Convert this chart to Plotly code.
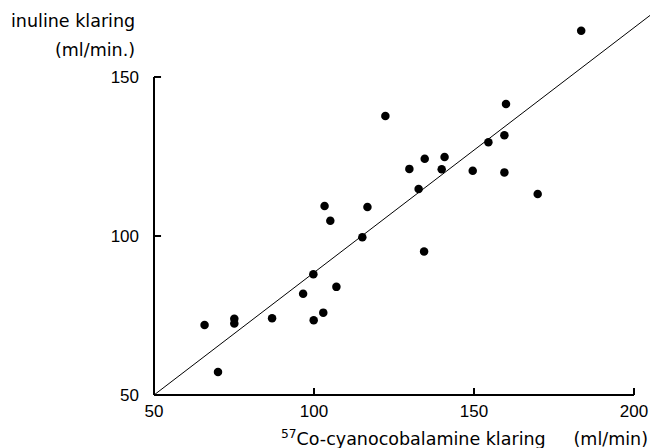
import plotly.graph_objects as go

# Data
co57_clearance = [183.5, 160.0, 122.3, 159.5, 154.5, 134.6, 140.8, 129.8, 139.9, 149.6,
                  159.5, 132.7, 169.9, 103.3, 116.7, 105.1, 115.1, 134.4, 99.8, 107.0,
                  96.6, 102.9, 86.9, 99.9, 75.1, 75.1, 65.8, 70.0]
inulin_clearance = [164.5, 141.5, 137.7, 131.7, 129.5, 124.3, 124.8, 121.1, 121.0, 120.5,
                    120.0, 114.8, 113.2, 109.4, 109.1, 104.8, 99.6, 95.1, 88.0, 84.0,
                    81.8, 75.9, 74.1, 73.5, 74.0, 72.5, 72.0, 57.2]

fit_slope = 0.77
fit_intercept = 50 - 0.77 * 50
fit_x = [50, 205]
fit_y = [fit_intercept + fit_slope * v for v in fit_x]

x_ticks = [50, 100, 150, 200]
y_ticks = [50, 100, 150]

TITLE_FONT = "DejaVu Sans"
TICK_FONT = "Liberation Sans"

X_RANGE = [49.375, 205]
Y_RANGE = [49.37, 172]
x_axis_span = [x_ticks[0], x_ticks[-1]]
y_axis_span = [y_ticks[0], y_ticks[-1]]
tick_len_x = 2.2  # in y data units
tick_len_y = 2.2  # in x data units

fig = go.Figure()
fig.add_trace(go.Scatter(x=fit_x, y=fit_y, mode="lines",
                         line=dict(color="black", width=1), hoverinfo="skip"))
fig.add_trace(go.Scatter(x=co57_clearance, y=inulin_clearance, mode="markers",
                         marker=dict(color="black", size=8.5)))

line_style = dict(color="black", width=2)
# axis lines only over the labelled span
fig.add_shape(type="line", xref="x", yref="y", x0=x_axis_span[0], x1=x_axis_span[1],
              y0=y_ticks[0], y1=y_ticks[0], line=line_style)
fig.add_shape(type="line", xref="x", yref="y", x0=x_ticks[0], x1=x_ticks[0],
              y0=y_axis_span[0], y1=y_axis_span[1], line=line_style)
for t in x_ticks[1:]:
    fig.add_shape(type="line", xref="x", yref="y", x0=t, x1=t,
                  y0=y_ticks[0], y1=y_ticks[0] + tick_len_x, line=line_style)
for t in y_ticks[1:]:
    fig.add_shape(type="line", xref="x", yref="y", x0=x_ticks[0], x1=x_ticks[0] + tick_len_y,
                  y0=t, y1=t, line=line_style)

fig.update_xaxes(range=X_RANGE, tickvals=x_ticks, ticktext=[str(v) for v in x_ticks],
                 ticks="", showgrid=False, zeroline=False, showline=False,
                 ticklabelstandoff=2,
                 tickfont=dict(family=TICK_FONT, size=17, color="black"))
fig.update_yaxes(range=Y_RANGE, tickvals=y_ticks, ticktext=[str(v) for v in y_ticks],
                 ticks="", showgrid=False, zeroline=False, showline=False,
                 ticklabelstandoff=12,
                 tickfont=dict(family=TICK_FONT, size=17, color="black"))

fig.add_annotation(text="inuline klaring", xref="paper", yref="paper",
                   x=-0.287, y=0.964, xanchor="left", yanchor="middle", showarrow=False,
                   font=dict(family=TITLE_FONT, size=17.5, color="black"))
fig.add_annotation(text="(ml/min.)", xref="paper", yref="paper",
                   x=-0.030, y=0.89, xanchor="right", yanchor="middle", showarrow=False,
                   font=dict(family=TITLE_FONT, size=17.5, color="black"))
fig.add_annotation(text="<sup>57</sup>Co-cyanocobalamine klaring\u00a0\u00a0\u00a0\u00a0\u00a0(ml/min)",
                   xref="paper", yref="paper", x=1.0, y=-0.105,
                   xanchor="right", yanchor="middle", showarrow=False,
                   font=dict(family=TITLE_FONT, size=17.5, color="black"))

fig.update_layout(width=651, height=448, margin=dict(l=152, r=1, t=7, b=51),
                  paper_bgcolor="white", plot_bgcolor="white", showlegend=False)

fig.write_html("out.html")
